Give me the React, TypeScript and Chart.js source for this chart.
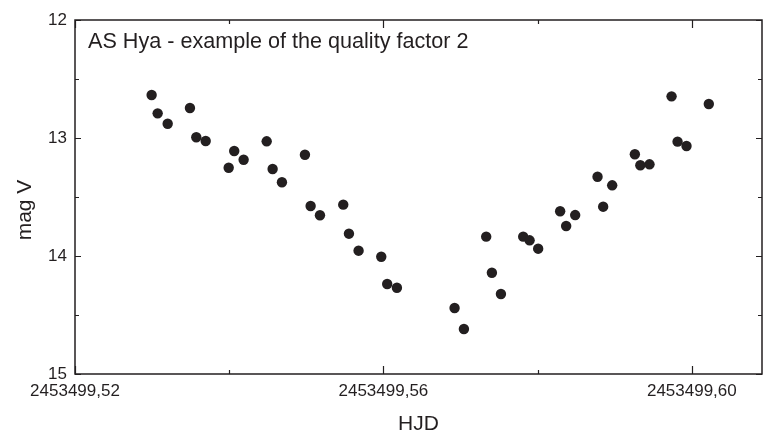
import React, { useEffect, useRef } from "react";
import { Chart, registerables } from "chart.js";

Chart.register(...registerables);

const HJD_BASE = 2453499;
const TITLE = "AS Hya - example of the quality factor 2";
const X_LABEL = "HJD";
const Y_LABEL = "mag V";

// HJD - 2453499
const hjdFrac = [
  0.52994, 0.53072, 0.53202, 0.53491, 0.53573, 0.53695, 0.53993, 0.54065, 0.54187, 0.54486,
  0.54563, 0.54684, 0.54982, 0.55056, 0.55177, 0.55479, 0.55553, 0.55678, 0.55972, 0.56049,
  0.56175, 0.56923, 0.57044, 0.57333, 0.57407, 0.57524, 0.57813, 0.57896, 0.58007, 0.58292,
  0.5837, 0.58487, 0.58777, 0.5885, 0.58967, 0.59261, 0.59332, 0.59451, 0.59737, 0.59815,
  0.59931, 0.6022,
];
const magV = [
  12.636, 12.791, 12.879, 12.746, 12.994, 13.025, 13.252, 13.11, 13.184, 13.028,
  13.263, 13.375, 13.142, 13.576, 13.655, 13.565, 13.811, 13.955, 14.006, 14.237,
  14.269, 14.441, 14.619, 13.836, 14.142, 14.322, 13.836, 13.867, 13.938, 13.621,
  13.746, 13.653, 13.328, 13.582, 13.401, 13.138, 13.231, 13.223, 12.647, 13.031,
  13.068, 12.712,
];

const xMajorTicks = [0.52, 0.56, 0.6];
const xMinorTicks = [0.54, 0.58];
const yMajorTicks = [12, 13, 14, 15];
const yMinorTicks = [12.5, 13.5, 14.5];

const INK = "#231f20";
const FONT = "'Liberation Sans', Arial, sans-serif";

const framePlugin = {
  id: "frameTicks",
  afterDraw(chart: any) {
    const { ctx, chartArea } = chart;
    const { left, right, top, bottom } = chartArea;
    const xs = chart.scales.x;
    const ys = chart.scales.y;
    ctx.save();
    ctx.strokeStyle = INK;
    ctx.lineWidth = 1.5;
    ctx.beginPath();
    ctx.rect(left, top, right - left, bottom - top);
    ctx.stroke();
    ctx.lineWidth = 1.2;
    ctx.beginPath();
    const xt = (vals: number[], len: number) => {
      vals.forEach((v) => {
        const p = Math.round(xs.getPixelForValue(v)) + 0.5;
        ctx.moveTo(p, bottom);
        ctx.lineTo(p, bottom - len);
        ctx.moveTo(p, top);
        ctx.lineTo(p, top + len);
      });
    };
    const yt = (vals: number[], len: number) => {
      vals.forEach((v) => {
        const p = Math.round(ys.getPixelForValue(v)) + 0.5;
        ctx.moveTo(left, p);
        ctx.lineTo(left + len, p);
        ctx.moveTo(right, p);
        ctx.lineTo(right - len, p);
      });
    };
    xt(xMajorTicks, 8);
    xt(xMinorTicks, 4);
    yt(yMajorTicks, 6);
    yt(yMinorTicks, 4);
    ctx.stroke();
    ctx.fillStyle = INK;
    ctx.font = `21.6px ${FONT}`;
    ctx.textAlign = "left";
    ctx.textBaseline = "alphabetic";
    ctx.fillText(TITLE, left + 13, top + 28);
    // y-axis title
    ctx.font = `21px ${FONT}`;
    ctx.textAlign = "center";
    ctx.textBaseline = "middle";
    ctx.translate(25, (top + bottom) / 2 + 13);
    ctx.rotate(-Math.PI / 2);
    ctx.fillText(Y_LABEL, 0, 0);
    ctx.restore();
  },
};

export default function App() {
  const ref = useRef<HTMLCanvasElement | null>(null);
  useEffect(() => {
    if (!ref.current) return;
    const chart = new Chart(ref.current, {
      type: "scatter",
      data: {
        datasets: [
          {
            data: hjdFrac.map((x, i) => ({ x, y: magV[i] })),
            backgroundColor: INK,
            borderColor: INK,
            pointRadius: 5.2,
            borderWidth: 0,
          },
        ],
      },
      options: {
        animation: false,
        responsive: false,
        devicePixelRatio: 1,
        layout: { autoPadding: false, padding: { top: 20, right: 1, left: 0, bottom: 0 } },
        plugins: { legend: { display: false }, tooltip: { enabled: false } },
        scales: {
          x: {
            type: "linear",
            min: 0.52,
            max: 0.6091,
            grid: { display: false, drawTicks: false },
            border: { display: false },
            afterBuildTicks: (s: any) => {
              s.ticks = xMajorTicks.map((v) => ({ value: v }));
            },
            afterFit: (s: any) => {
              s.height = 63;
              s.paddingLeft = 0;
              s.paddingRight = 0;
            },
            ticks: {
              color: INK,
              padding: 7,
              maxRotation: 0,
              autoSkip: false,
              font: { family: FONT, size: 17 },
              callback: (v: any) => `${HJD_BASE},${Number(v).toFixed(2).split(".")[1]}`,
            },
            title: {
              display: true,
              text: X_LABEL,
              color: INK,
              font: { family: FONT, size: 21 },
              padding: { top: 0, bottom: 0 },
            },
          },
          y: {
            type: "linear",
            min: 12,
            max: 15,
            reverse: true,
            grid: { display: false, drawTicks: false },
            border: { display: false },
            afterBuildTicks: (s: any) => {
              s.ticks = yMajorTicks.map((v) => ({ value: v }));
            },
            afterFit: (s: any) => {
              s.width = 75;
            },
            ticks: {
              color: INK,
              padding: 8,
              font: { family: FONT, size: 17 },
              callback: (v: any) => String(v),
            },
          },
        },
      },
      plugins: [framePlugin],
    });
    return () => chart.destroy();
  }, []);
  return (
    <div style={{ position: "fixed", left: 0, top: 0, width: 763, height: 437, background: "#fff" }}>
      <canvas ref={ref} width={763} height={437} />
    </div>
  );
}
